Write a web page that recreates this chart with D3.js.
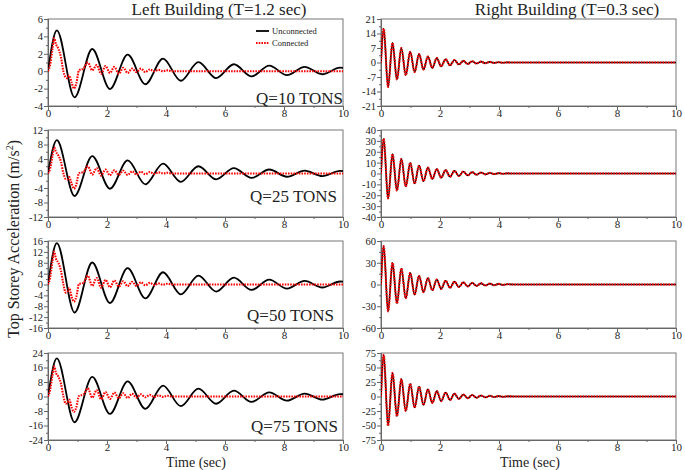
<!DOCTYPE html>
<html>
<head>
<meta charset="utf-8">
<script src="https://cdn.jsdelivr.net/npm/d3@7"></script>
<style>
body { margin: 0; background: #fff; }
svg text { font-family: "Liberation Serif", "Times New Roman", serif; fill: #222; }
</style>
</head>
<body>
<script>
// ---- data ----
var rowLabels = ["Q=10 TONS", "Q=25 TONS", "Q=50 TONS", "Q=75 TONS"];
var colTitles = ["Left Building (T=1.2 sec)", "Right Building (T=0.3 sec)"];

var xTicks = [0, 2, 4, 6, 8, 10];

var leftDomains = [[-4, 6], [-12, 12], [-16, 16], [-24, 24]];
var leftSteps = [2, 4, 4, 8];
var rightDomains = [[-21, 21], [-40, 40], [-60, 60], [-75, 75]];
var rightSteps = [7, 10, 30, 25];

// left building, unconnected: peaks / troughs (sec)
var leftTimes = [0, 0.3, 0.9, 1.5, 2.1, 2.7, 3.3, 3.9, 4.5, 5.1, 5.7, 6.3, 6.9, 7.5, 8.1, 8.7, 9.3, 9.9, 10];
var leftUncQ10 = [0, 4.7, -3.0, 2.55, -2.05, 1.9, -1.5, 1.45, -1.1, 1.05, -0.8, 0.8, -0.6, 0.65, -0.45, 0.5, -0.35, 0.4, 0.38];
var leftUncQ25 = [0, 9.2, -6.2, 4.8, -4.2, 3.6, -3.0, 2.7, -2.3, 2.0, -1.6, 1.5, -1.2, 1.1, -0.9, 0.8, -0.7, 0.7, 0.68];
var leftUncQ50 = [0, 15.2, -10.3, 8.1, -6.8, 6.0, -5.1, 4.5, -3.6, 3.3, -2.6, 2.5, -2.0, 1.8, -1.5, 1.3, -1.1, 1.1, 1.05];
var leftUncQ75 = [0, 21, -14.2, 10.8, -9.6, 8.3, -6.8, 6.0, -5.3, 4.3, -4.0, 3.2, -3.0, 2.3, -2.3, 1.6, -1.7, 1.3, 1.25];

// left building, connected
var connTimes = [0, 0.07, 0.15, 0.21, 0.27, 0.35, 0.44, 0.52, 0.6, 0.66, 0.72, 0.8, 0.88, 0.96, 1.05, 1.2,
  1.35, 1.5, 1.65, 1.8, 1.95, 2.1, 2.25, 2.4, 2.55, 2.7, 2.85, 3.0, 3.15, 3.3, 3.45, 3.6, 3.75, 3.9, 4.05, 4.2, 4.5, 10];
var leftConQ10 = [0, 0.7, 2.5, 3.8, 3.1, 2.6, 1.6, 0.0, -0.7, -0.8, -0.5, -1.3, -2.0, -1.4, 0.1, 0.3,
  1.0, 0.1, 0.7, -0.3, 0.6, -0.2, 0.5, -0.3, 0.4, -0.2, 0.3, -0.1, 0.3, -0.1, 0.2, 0, 0.15, 0, 0.1, 0, 0, 0];
var leftConQ25 = [0, 1.3, 4.8, 7.2, 6.0, 5.0, 3.2, 0.1, -1.5, -1.6, -1.0, -2.8, -4.2, -3.0, 0.1, 0.4,
  2.0, -0.3, 1.5, -0.6, 1.1, -0.5, 0.9, -0.4, 0.8, -0.4, 0.6, -0.3, 0.5, -0.2, 0.4, -0.1, 0.3, 0, 0.2, 0, 0, 0];
var leftConQ50 = [0, 2.5, 8.5, 12.1, 9.5, 8.0, 5.0, 0.2, -3.0, -2.6, -1.3, -4.5, -6.3, -4.5, 0.2, 0.6,
  3.2, -0.5, 2.4, -1.2, 1.7, -1.0, 1.5, -0.8, 1.2, -0.6, 1.0, -0.5, 0.8, -0.3, 0.6, -0.2, 0.4, -0.1, 0.3, 0, 0, 0];
var leftConQ75 = [0, 3.5, 11.5, 16.6, 13, 11, 7, 0.3, -4, -3.5, -1.7, -6, -8.5, -6, 0.3, 1,
  4.5, -0.6, 3.5, -1.5, 2.5, -1.3, 2.2, -1.0, 1.8, -0.8, 1.5, -0.6, 1.2, -0.4, 0.9, -0.3, 0.6, -0.2, 0.4, 0, 0, 0];

// right building: both cases lie on top of each other
var rightTimes = [0, 0.09, 0.24, 0.39, 0.54, 0.69, 0.84, 0.99, 1.14, 1.29, 1.44, 1.59, 1.74, 1.89, 2.04, 2.19,
  2.34, 2.49, 2.64, 2.79, 2.94, 3.09, 3.24, 3.39, 3.54, 3.69, 3.84, 3.99, 4.14, 4.29, 4.5, 10];
var rightQ10 = [0, 16.4, -11.8, 9.5, -8.2, 7.0, -6.1, 5.2, -4.6, 4.1, -3.4, 2.9, -2.6, 2.2, -1.9, 1.6,
  -1.4, 1.2, -1.0, 0.8, -0.7, 0.6, -0.5, 0.4, -0.35, 0.3, -0.2, 0.15, -0.1, 0.05, 0, 0];
var rightQ25 = [0, 32, -23, 18, -15.7, 13.5, -12, 9.8, -9.2, 7.3, -7, 5.5, -5.1, 4.2, -3.9, 3.2,
  -3, 2.4, -2.3, 1.8, -1.7, 1.3, -1.2, 0.9, -0.8, 0.6, -0.5, 0.3, -0.2, 0.1, 0, 0];
var rightQ50 = [0, 53, -37, 30, -26, 22, -19, 16, -14, 12, -10.5, 9, -8, 7, -6, 5.2,
  -4.6, 4, -3.5, 3, -2.6, 2.2, -1.9, 1.6, -1.4, 1.2, -1.0, 0.8, -0.6, 0.4, 0, 0];
var rightQ75 = [0, 72, -50, 41, -34, 30, -25, 22, -19, 17, -14.5, 12.5, -11, 9.3, -8, 6.8,
  -6, 5, -4.3, 3.5, -3, 2.5, -2.1, 1.7, -1.5, 1.2, -0.9, 0.7, -0.5, 0.3, 0, 0];

var leftUnc = [leftUncQ10, leftUncQ25, leftUncQ50, leftUncQ75];
var leftCon = [leftConQ10, leftConQ25, leftConQ50, leftConQ75];
var rightAll = [rightQ10, rightQ25, rightQ50, rightQ75];

// ---- layout ----
var w = 685;
var h = 470;
var colX = [48, 381];
var plotW = 295;
var rowTop = [19, 130, 241, 353];
var plotH = 87;
var labelBase = [104, 202, 321, 432];
var labelRight = [343, 337, 334, 338];

var svg = d3.select("body")
    .append("svg")
    .attr("width", w)
    .attr("height", h);

function zip(ts, vs) {
    return ts.map(function(t, i) { return [t, vs[i]]; });
}

function drawPanel(col, row) {
    var x0 = colX[col];
    var y0 = rowTop[row];
    var dom = col === 0 ? leftDomains[row] : rightDomains[row];
    var step = col === 0 ? leftSteps[row] : rightSteps[row];

    var xScale = d3.scaleLinear().domain([0, 10]).range([x0, x0 + plotW]);
    var yScale = d3.scaleLinear().domain(dom).range([y0 + plotH, y0]);

    var g = svg.append("g");
    var id = "clip" + col + row;
    svg.append("clipPath").attr("id", id)
        .append("rect")
        .attr("x", x0).attr("y", y0)
        .attr("width", plotW).attr("height", plotH);

    // frame
    g.append("rect")
        .attr("x", x0).attr("y", y0)
        .attr("width", plotW).attr("height", plotH)
        .attr("fill", "none")
        .attr("stroke", "#777")
        .attr("stroke-width", 1);

    var yMajor = d3.range(dom[0], dom[1] + step / 2, step);
    var yMinor = d3.range(dom[0] + step / 2, dom[1], step);
    var xMinor = d3.range(1, 10, 2);

    var ax = g.append("g")
        .attr("transform", "translate(0," + (y0 + plotH) + ")")
        .call(d3.axisBottom(xScale).tickValues(xTicks).tickSize(4).tickPadding(1)
            .tickFormat(function(d) { return String(d); }));
    g.append("g")
        .attr("transform", "translate(0," + (y0 + plotH) + ")")
        .call(d3.axisBottom(xScale).tickValues(xMinor).tickSize(2).tickFormat(""));
    var ay = g.append("g")
        .attr("transform", "translate(" + x0 + ",0)")
        .call(d3.axisLeft(yScale).tickValues(yMajor).tickSize(4).tickPadding(1)
            .tickFormat(function(d) { return String(d); }));
    g.append("g")
        .attr("transform", "translate(" + x0 + ",0)")
        .call(d3.axisLeft(yScale).tickValues(yMinor).tickSize(2).tickFormat(""));

    g.selectAll(".domain").attr("stroke", "#666");
    g.selectAll(".tick line").attr("stroke", "#666");
    ax.selectAll("text").attr("font-size", 11).attr("y", 3).attr("fill", "#333");
    ay.selectAll("text").attr("font-size", 10.5).attr("fill", "#444");

    var line = d3.line()
        .x(function(d) { return xScale(d[0]); })
        .y(function(d) { return yScale(d[1]); })
        .curve(d3.curveMonotoneX);

    var lines = g.append("g").attr("clip-path", "url(#" + id + ")");
    var unc, con;
    if (col === 0) {
        unc = zip(leftTimes, leftUnc[row]);
        con = zip(connTimes, leftCon[row]);
    } else {
        unc = zip(rightTimes, rightAll[row]);
        con = zip(rightTimes, rightAll[row]);
    }
    lines.append("path")
        .attr("d", line(unc))
        .attr("fill", "none")
        .attr("stroke", "#000")
        .attr("stroke-width", col === 0 ? 1.8 : 1.6);
    lines.append("path")
        .attr("d", line(con))
        .attr("fill", "none")
        .attr("stroke", "#f00")
        .attr("stroke-width", 2.1)
        .attr("stroke-dasharray", "1.6,1.1");

    if (col === 0) {
        g.append("text")
            .attr("x", labelRight[row])
            .attr("y", labelBase[row])
            .attr("text-anchor", "end")
            .attr("font-size", 17)
            .attr("fill", "#111")
            .text(rowLabels[row]);
    }
}

for (var r = 0; r < 4; r++) {
    drawPanel(0, r);
    drawPanel(1, r);
}

// legend (first panel only)
var leg = svg.append("g");
leg.append("line").attr("x1", 256).attr("x2", 269).attr("y1", 31).attr("y2", 31)
    .attr("stroke", "#000").attr("stroke-width", 1.8);
leg.append("line").attr("x1", 256).attr("x2", 269).attr("y1", 43).attr("y2", 43)
    .attr("stroke", "#f00").attr("stroke-width", 2).attr("stroke-dasharray", "1.6,1.1");
leg.append("text").attr("x", 272).attr("y", 34).attr("font-size", 8.5).text("Unconnected");
leg.append("text").attr("x", 272).attr("y", 46).attr("font-size", 8.5).text("Connected");

// titles
svg.append("text").attr("x", 219).attr("y", 15).attr("text-anchor", "middle")
    .attr("font-size", 17).text(colTitles[0]);
svg.append("text").attr("x", 567).attr("y", 15).attr("text-anchor", "middle")
    .attr("font-size", 17).text(colTitles[1]);

// x axis titles
svg.append("text").attr("x", 196).attr("y", 467).attr("text-anchor", "middle")
    .attr("font-size", 14).text("Time (sec)");
svg.append("text").attr("x", 530).attr("y", 467).attr("text-anchor", "middle")
    .attr("font-size", 14).text("Time (sec)");

// y axis title
var yt = svg.append("text")
    .attr("transform", "translate(19,239) rotate(-90)")
    .attr("text-anchor", "middle")
    .attr("font-size", 16);
yt.append("tspan").text("Top Storey Acceleration (m/s");
yt.append("tspan").attr("dy", -6).attr("font-size", 10).text("2");
yt.append("tspan").attr("dy", 6).text(")");
</script>
</body>
</html>
